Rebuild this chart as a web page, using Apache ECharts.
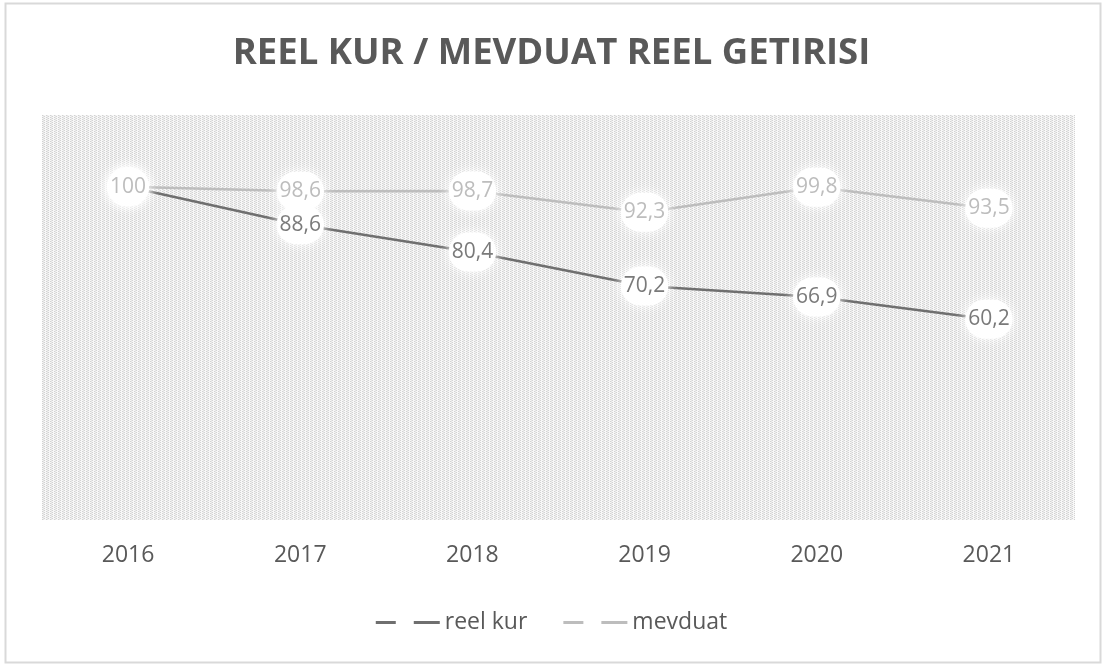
<!DOCTYPE html>
<html>
<head>
<meta charset="utf-8">
<style>
  html, body { margin: 0; padding: 0; background: #fff; }
  #chart { width: 1103px; height: 666px; }
</style>
<script src="https://cdn.jsdelivr.net/npm/echarts@6/dist/echarts.min.js"></script>
</head>
<body>
<div id="chart"></div>
<script>
const years = ["2016", "2017", "2018", "2019", "2020", "2021"];
const reelKur = [100, 88.6, 80.4, 70.2, 66.9, 60.2];
const mevduat = [100, 98.6, 98.7, 92.3, 99.8, 93.5];

// dotted fill like the excel plot area
let makePattern = () => {
  let c = document.createElement("canvas");
  c.width = 4;
  c.height = 4;
  let ctx = c.getContext("2d");
  ctx.fillStyle = "#f7f7f7";
  ctx.fillRect(0, 0, 4, 4);
  ctx.fillStyle = "#d2d2d2";
  ctx.fillRect(0, 0, 1, 1);
  ctx.fillRect(0, 2, 1, 1);
  ctx.fillRect(2, 1, 1, 1);
  ctx.fillRect(2, 3, 1, 1);
  ctx.fillStyle = "#e6e6e6";
  ctx.fillRect(3, 0, 1, 4);
  return c;
};

let chart = echarts.init(document.getElementById("chart"));

let labelStyle = (color) => ({
  show: true,
  position: "inside",
  color: color,
  fontSize: 21,
  fontFamily: "Open Sans",
  backgroundColor: "#fff",
  borderRadius: 24,
  padding: [9, 3],
  shadowColor: "#fff",
  shadowBlur: 12,
  formatter: (p) => String(p.value).replace(".", ","),
});

var option = {
  backgroundColor: "#fff",
  title: {
    text: "REEL KUR / MEVDUAT REEL GETIRISI",
    left: "center",
    top: 30,
    textStyle: {
      color: "#595959",
      fontSize: 36.5,
      fontWeight: "bold",
      fontFamily: "Open Sans",
    },
  },
  grid: {
    show: true,
    left: 42,
    right: 28,
    top: 115,
    bottom: 146,
    borderWidth: 0,
    backgroundColor: { image: makePattern(), repeat: "repeat" },
  },
  xAxis: {
    type: "category",
    data: years,
    boundaryGap: true,
    axisLine: { show: false },
    axisTick: { show: false },
    axisLabel: {
      color: "#595959",
      fontSize: 23,
      fontFamily: "Open Sans",
      margin: 24,
    },
  },
  yAxis: {
    type: "value",
    min: 0,
    max: 121.5,
    show: false,
    splitLine: { show: false },
  },
  legend: {
    bottom: 27,
    left: "center",
    itemWidth: 64,
    itemHeight: 3,
    itemGap: 36,
    icon: "path://M0,0h20v3h-20z M38,0h26v3h-26z",
    textStyle: { color: "#595959", fontSize: 23, fontFamily: "Open Sans" },
    data: ["reel kur", "mevduat"],
  },
  series: [
    {
      name: "reel kur",
      type: "line",
      data: reelKur,
      symbol: "circle",
      symbolSize: 0,
      lineStyle: { color: "#6f6f6f", width: 2.5 },
      itemStyle: { color: "#6f6f6f" },
      label: labelStyle("#7a7a7a"),
      z: 3,
    },
    {
      name: "mevduat",
      type: "line",
      data: mevduat,
      symbol: "circle",
      symbolSize: 0,
      lineStyle: { color: "#bdbdbd", width: 2.5 },
      itemStyle: { color: "#bdbdbd" },
      label: labelStyle("#bdbdbd"),
      z: 4,
    },
  ],
  graphic: [
    {
      type: "rect",
      shape: { x: 5.5, y: 3.5, width: 1095, height: 659 },
      style: { fill: "none", stroke: "#d9d9d9", lineWidth: 2 },
      silent: true,
    },
  ],
};

chart.setOption(option);
window.onresize = function () {
  chart.resize();
};
</script>
</body>
</html>
